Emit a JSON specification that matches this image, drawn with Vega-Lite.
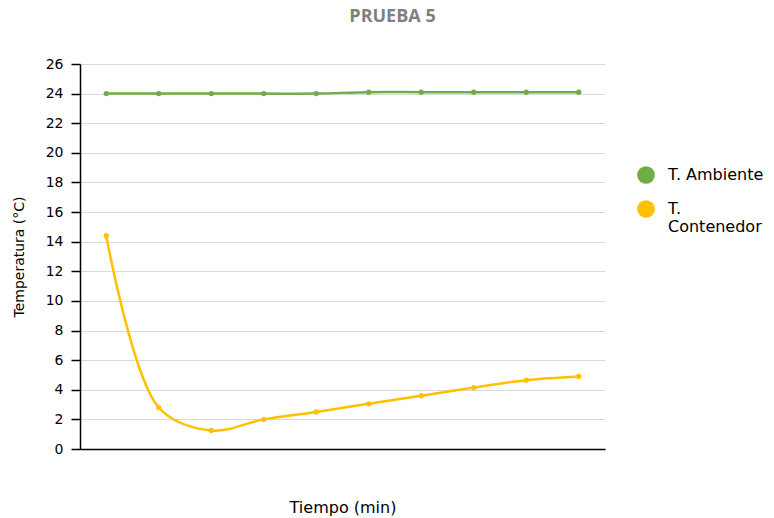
{
  "$schema": "https://vega.github.io/schema/vega-lite/v6.json",
  "width": 525,
  "height": 385,
  "autosize": {"type": "none"},
  "padding": {"left": 80, "top": 64, "right": 169, "bottom": 69},
  "background": "white",
  "title": {
    "text": "PRUEBA 5",
    "anchor": "middle",
    "dx": 50,
    "offset": 31,
    "font": "Open Sans",
    "fontSize": 18,
    "fontWeight": "bold",
    "color": "#808080"
  },
  "data": {
    "values": [
      {"t": 1, "serie": "T. Ambiente", "temp": 24.0},
      {"t": 2, "serie": "T. Ambiente", "temp": 24.0},
      {"t": 3, "serie": "T. Ambiente", "temp": 24.0},
      {"t": 4, "serie": "T. Ambiente", "temp": 24.0},
      {"t": 5, "serie": "T. Ambiente", "temp": 24.0},
      {"t": 6, "serie": "T. Ambiente", "temp": 24.1},
      {"t": 7, "serie": "T. Ambiente", "temp": 24.1},
      {"t": 8, "serie": "T. Ambiente", "temp": 24.1},
      {"t": 9, "serie": "T. Ambiente", "temp": 24.1},
      {"t": 10, "serie": "T. Ambiente", "temp": 24.1},
      {"t": 1, "serie": "T. Contenedor", "temp": 14.4},
      {"t": 2, "serie": "T. Contenedor", "temp": 2.8},
      {"t": 3, "serie": "T. Contenedor", "temp": 1.25},
      {"t": 4, "serie": "T. Contenedor", "temp": 2.0},
      {"t": 5, "serie": "T. Contenedor", "temp": 2.5},
      {"t": 6, "serie": "T. Contenedor", "temp": 3.05},
      {"t": 7, "serie": "T. Contenedor", "temp": 3.6},
      {"t": 8, "serie": "T. Contenedor", "temp": 4.15},
      {"t": 9, "serie": "T. Contenedor", "temp": 4.65},
      {"t": 10, "serie": "T. Contenedor", "temp": 4.9}
    ]
  },
  "encoding": {
    "x": {
      "field": "t",
      "type": "ordinal",
      "scale": {"type": "point", "padding": 0.5},
      "axis": {
        "title": "Tiempo (min)",
        "labels": false,
        "ticks": false,
        "grid": false,
        "domainColor": "#000000",
        "domainWidth": 1.5,
        "titlePadding": 50,
        "titleFont": "DejaVu Sans",
        "titleFontSize": 16,
        "titleFontWeight": "normal",
        "titleColor": "#000000"
      }
    },
    "y": {
      "field": "temp",
      "type": "quantitative",
      "scale": {"domain": [0, 26], "nice": false},
      "axis": {
        "title": "Temperatura (°C)",
        "values": [0, 2, 4, 6, 8, 10, 12, 14, 16, 18, 20, 22, 24, 26],
        "domainColor": "#000000",
        "domainWidth": 1.5,
        "tickColor": "#000000",
        "tickWidth": 1.5,
        "tickSize": 9,
        "labelPadding": 8,
        "labelFont": "DejaVu Sans",
        "labelFontSize": 14,
        "labelColor": "#000000",
        "gridColor": "#d9d9d9",
        "gridWidth": 1.2,
        "titlePadding": 19,
        "titleFont": "DejaVu Sans",
        "titleFontSize": 14,
        "titleFontWeight": "normal",
        "titleColor": "#000000"
      }
    },
    "color": {
      "field": "serie",
      "type": "nominal",
      "scale": {"domain": ["T. Ambiente", "T. Contenedor"], "range": ["#70ad47", "#ffc000"]},
      "legend": {
        "title": null,
        "orient": "none",
        "legendX": 557,
        "legendY": 102,
        "padding": 0,
        "symbolType": "circle",
        "symbolSize": 314,
        "symbolStrokeWidth": 0,
        "symbolOpacity": 1,
        "labelFont": "DejaVu Sans",
        "labelFontSize": 16,
        "labelColor": "#000000",
        "labelOffset": 13,
        "labelLimit": 200,
        "labelBaseline": "middle",
        "labelExpr": "datum.label == 'T. Contenedor' ? ['T.', 'Contenedor'] : datum.label",
        "rowPadding": 16
      }
    }
  },
  "layer": [
    {
      "mark": {"type": "line", "interpolate": "catmull-rom", "strokeWidth": 2.5}
    },
    {
      "mark": {"type": "point", "filled": true, "size": 28, "opacity": 1}
    }
  ],
  "config": {"view": {"stroke": null}}
}
